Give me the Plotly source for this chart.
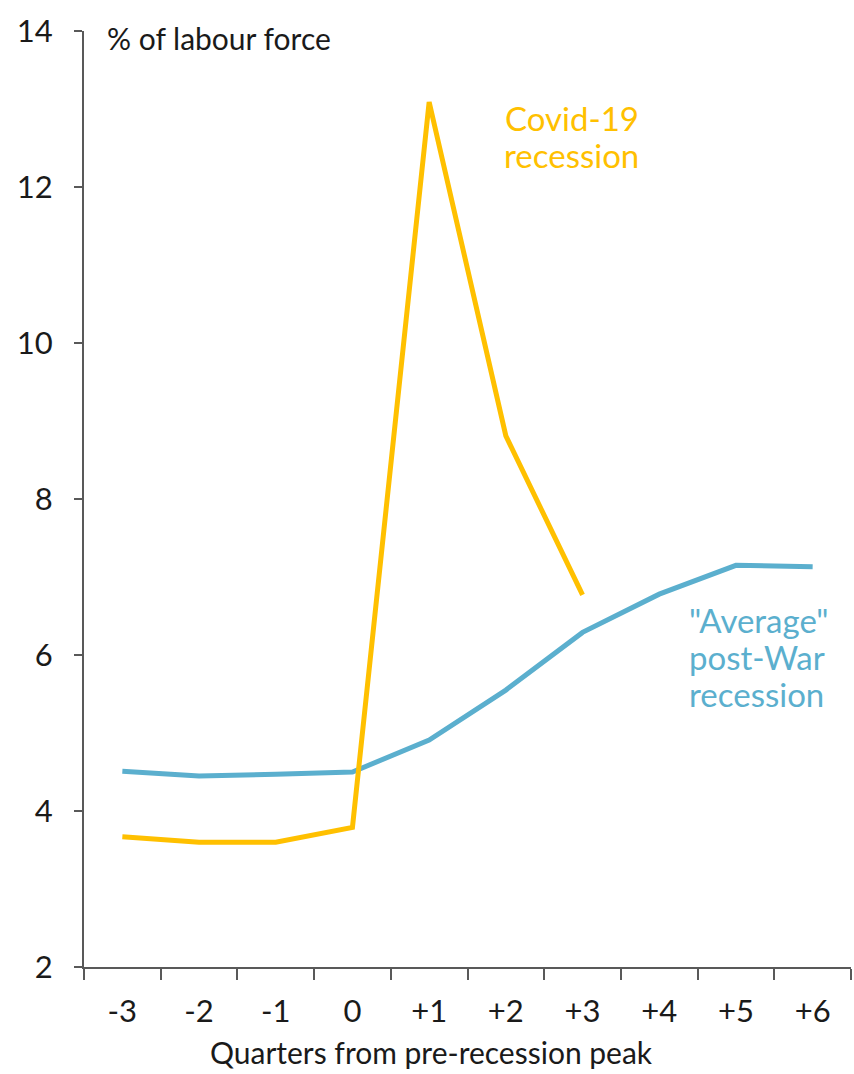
import plotly.graph_objects as go

quarters = ["-3", "-2", "-1", "0", "+1", "+2", "+3", "+4", "+5", "+6"]
average_postwar = [4.51, 4.45, 4.47, 4.50, 4.91, 5.55, 6.29, 6.78, 7.15, 7.13]
covid_quarters = ["-3", "-2", "-1", "0", "+1", "+2", "+3"]
covid_19 = [3.67, 3.60, 3.60, 3.79, 13.09, 8.81, 6.77]
y_ticks = [2, 4, 6, 8, 10, 12, 14]

covid_label = ["Covid-19", "recession"]
average_label = ["\"Average\"", "post-War", "recession"]

YELLOW = "#FFC000"
BLUE = "#5BAFCE"
AXIS = "#595959"
FONT = "Lato"

fig = go.Figure()
fig.add_trace(go.Scatter(x=quarters, y=average_postwar, mode="lines",
                         line=dict(color=BLUE, width=5), name="Average post-War recession"))
fig.add_trace(go.Scatter(x=covid_quarters, y=covid_19, mode="lines",
                         line=dict(color=YELLOW, width=5), name="Covid-19 recession"))

fig.update_layout(
    width=854, height=1074,
    margin=dict(l=84, r=3, t=31, b=107),
    paper_bgcolor="white", plot_bgcolor="white",
    showlegend=False,
    font=dict(family=FONT, size=30, color="#1a1a1a"),
)
fig.update_xaxes(
    type="category", categoryorder="array", categoryarray=quarters,
    range=[-0.5, 9.5], tickson="boundaries",
    showline=True, linecolor=AXIS, linewidth=2,
    ticks="outside", ticklen=11, tickwidth=2, tickcolor=AXIS,
    showgrid=False, zeroline=False, ticklabelstandoff=16,
    tickfont=dict(size=31),
)
fig.update_yaxes(
    range=[2, 14], tickvals=y_ticks,
    showline=True, linecolor=AXIS, linewidth=2,
    ticks="outside", ticklen=8, tickwidth=2, tickcolor=AXIS,
    showgrid=False, zeroline=False, ticklabelstandoff=15,
    tickfont=dict(size=31),
)

fig.add_annotation(xref="paper", yref="paper", x=0.027, y=0.9925, xanchor="left", yanchor="middle",
                   text="% of labour force", showarrow=False, font=dict(size=30))
fig.add_annotation(xref="paper", yref="paper", x=0.4537, y=-0.0908, xanchor="center", yanchor="middle",
                   text="Quarters from pre-recession peak", showarrow=False, font=dict(size=30))

# Series labels, one annotation per line for tight line spacing
for text, yv in zip(covid_label, [12.885, 12.41]):
    fig.add_annotation(x=5.86, y=yv, xref="x", yref="y", xanchor="center", yanchor="middle",
                       text=text, showarrow=False, font=dict(size=33, color=YELLOW))
for text, yv in zip(average_label, [6.449, 5.974, 5.5]):
    fig.add_annotation(x=7.36, y=yv, xref="x", yref="y", xanchor="left", yanchor="middle",
                       text=text, showarrow=False, font=dict(size=33, color=BLUE))

fig.write_html("out.html")
